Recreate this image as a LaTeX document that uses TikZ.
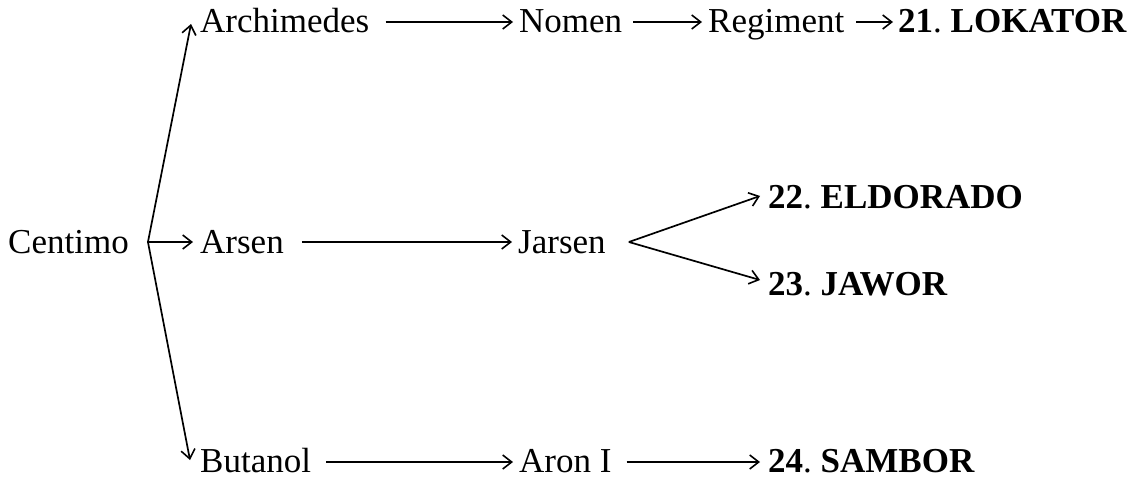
\documentclass[tikz,border=0pt]{standalone}
\usepackage{fontspec}
\setmainfont{Liberation Serif}
\usetikzlibrary{arrows.meta}
\frenchspacing
\begin{document}
\begin{tikzpicture}[x=1pt,y=-1pt,
  lbl/.style={anchor=base west,inner sep=0pt,font=\fontsize{35}{42}\selectfont},
  arr/.style={line width=1.7pt,-{Straight Barb[length=9pt,width=14pt,line width=1.6pt]}}]
\useasboundingbox (0,0) rectangle (1140,479);
% nodes
\node[lbl] (cent) at (8,253) {Centimo};
\node[lbl] (arch) at (200,32) {Archimedes};
\node[lbl] (nomen) at (519,32) {Nomen};
\node[lbl] (regi) at (708,32) {Regiment};
\node[lbl] (lok) at (898,32) {\textbf{21}.\ \textbf{LOKATOR}};
\node[lbl] (arsen) at (200,253) {Arsen};
\node[lbl] (jarsen) at (518,253) {Jarsen};
\node[lbl] (eldo) at (768,208) {\textbf{22}.\ \textbf{ELDORADO}};
\node[lbl] (jawor) at (768,295) {\textbf{23}.\ \textbf{JAWOR}};
\node[lbl] (buta) at (200,472) {Butanol};
\node[lbl] (aron) at (519,472) {Aron I};
\node[lbl] (samb) at (768,472) {\textbf{24}.\ \textbf{SAMBOR}};
% fork points
\coordinate (cfork) at ([shift={(19,-11)}]cent.base east);
\coordinate (jfork) at ([shift={(23,-11)}]jarsen.base east);
% connectors from Centimo
\draw[arr] (cfork) -- ([shift={(-9,-8)}]arch.base west);
\draw[arr] (cfork) -- ([shift={(-7,-11)}]arsen.base west);
\draw[arr] (cfork) -- ([shift={(-10,-12)}]buta.base west);
% row 1
\draw[arr] ([shift={(16,-10)}]arch.base east) -- ([shift={(-6,-10)}]nomen.base west);
\draw[arr] ([shift={(11,-10)}]nomen.base east) -- ([shift={(-6,-10)}]regi.base west);
\draw[arr] ([shift={(12,-10)}]regi.base east) -- ([shift={(-5,-10)}]lok.base west);
% row 2
\draw[arr] ([shift={(18,-11)}]arsen.base east) -- ([shift={(-6,-11)}]jarsen.base west);
\draw[arr] (jfork) -- ([shift={(-8,-12)}]eldo.base west);
\draw[arr] (jfork) -- ([shift={(-8,-15)}]jawor.base west);
% row 3
\draw[arr] ([shift={(15,-10)}]buta.base east) -- ([shift={(-6,-10)}]aron.base west);
\draw[arr] ([shift={(15,-10)}]aron.base east) -- ([shift={(-8,-10)}]samb.base west);
\end{tikzpicture}
\end{document}
